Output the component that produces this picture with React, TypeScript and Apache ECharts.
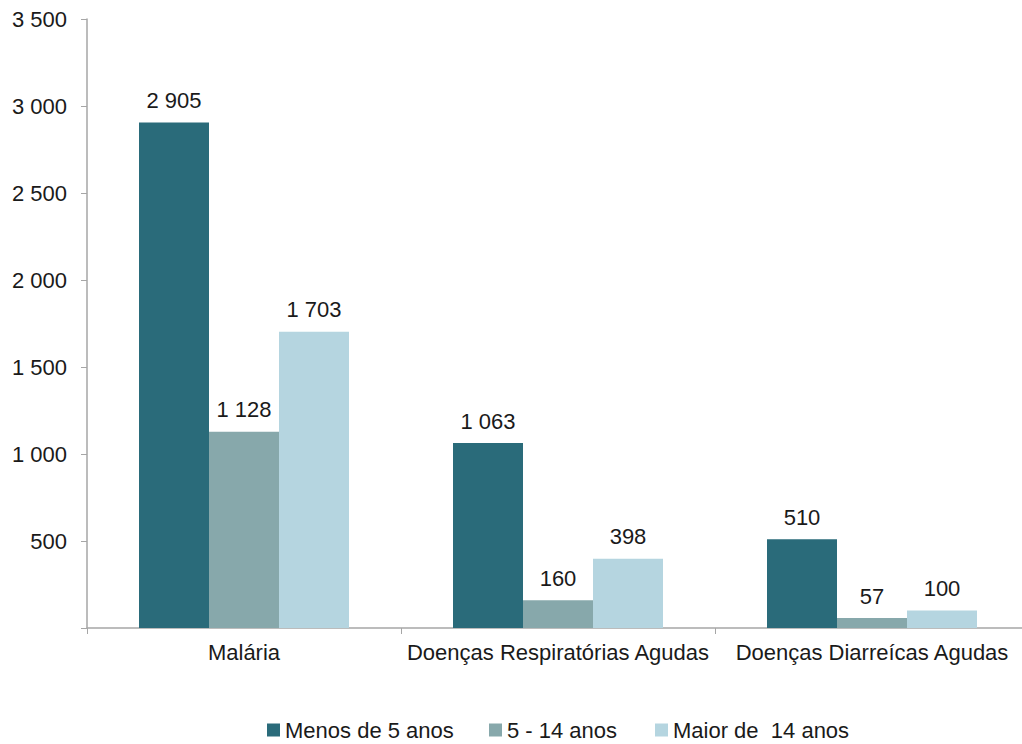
import React, { useEffect, useRef } from "react";
import * as echarts from "echarts";

const categories = ["Malária", "Doenças Respiratórias Agudas", "Doenças Diarreícas Agudas"];
const seriesNames = ["Menos de 5 anos", "5 - 14 anos", "Maior de  14 anos"];
const under5 = [2905, 1063, 510];
const age5to14 = [1128, 160, 57];
const over14 = [1703, 398, 100];
const colors = ["#2A6B7A", "#87A8AB", "#B5D5E0"];

const fmt = (v: number) => String(v).replace(/\B(?=(\d{3})+(?!\d))/g, " ");

export default function App() {
  const ref = useRef<HTMLDivElement>(null);
  useEffect(() => {
    if (!ref.current) return;
    const chart = echarts.init(ref.current, null, { renderer: "svg" });
    const font = "Liberation Sans, Arial, sans-serif";
    const fs = 22;
    const txt = "#1a1a1a";
    const dataSets = [under5, age5to14, over14];
    const legendLefts = [267, 489, 655];
    chart.setOption({
      animation: false,
      textStyle: { fontFamily: font },
      grid: {
        left: 87,
        top: 19,
        width: 942,
        bottom: 116,
        containLabel: false,
        outerBoundsMode: "none",
      },
      legend: seriesNames.map((name, i) => ({
        top: 719,
        left: legendLefts[i],
        padding: 0,
        itemWidth: 13,
        itemHeight: 13,
        icon: "rect",
        textStyle: { fontSize: fs, lineHeight: 20, color: txt, fontFamily: font },
        data: [name],
      })),
      xAxis: {
        type: "category",
        data: categories,
        axisLine: { lineStyle: { color: "#A6A6A6", width: 1.5 } },
        axisTick: { show: true, length: 6, lineStyle: { color: "#A6A6A6" } },
        axisLabel: { fontSize: fs, color: txt, margin: 13, interval: 0, fontFamily: font },
      },
      yAxis: {
        type: "value",
        min: 0,
        max: 3500,
        interval: 500,
        axisLine: { show: true, lineStyle: { color: "#A6A6A6", width: 1.5 } },
        axisTick: { show: true, length: 6, lineStyle: { color: "#A6A6A6" } },
        splitLine: { show: false },
        axisLabel: {
          fontSize: fs,
          color: txt,
          margin: 20,
          fontFamily: font,
          formatter: (v: number) => (v === 0 ? "" : fmt(v)),
        },
      },
      series: seriesNames.map((name, i) => ({
        name,
        type: "bar",
        data: dataSets[i],
        barWidth: 70,
        barGap: "0%",
        itemStyle: { color: colors[i] },
        label: {
          show: true,
          position: "top",
          distance: 11,
          fontSize: fs,
          color: txt,
          fontFamily: font,
          formatter: (p: any) => fmt(p.value),
        },
      })),
    });
    return () => chart.dispose();
  }, []);
  return <div ref={ref} style={{ width: 1022, height: 744, position: "absolute", left: 0, top: 0 }} />;
}
